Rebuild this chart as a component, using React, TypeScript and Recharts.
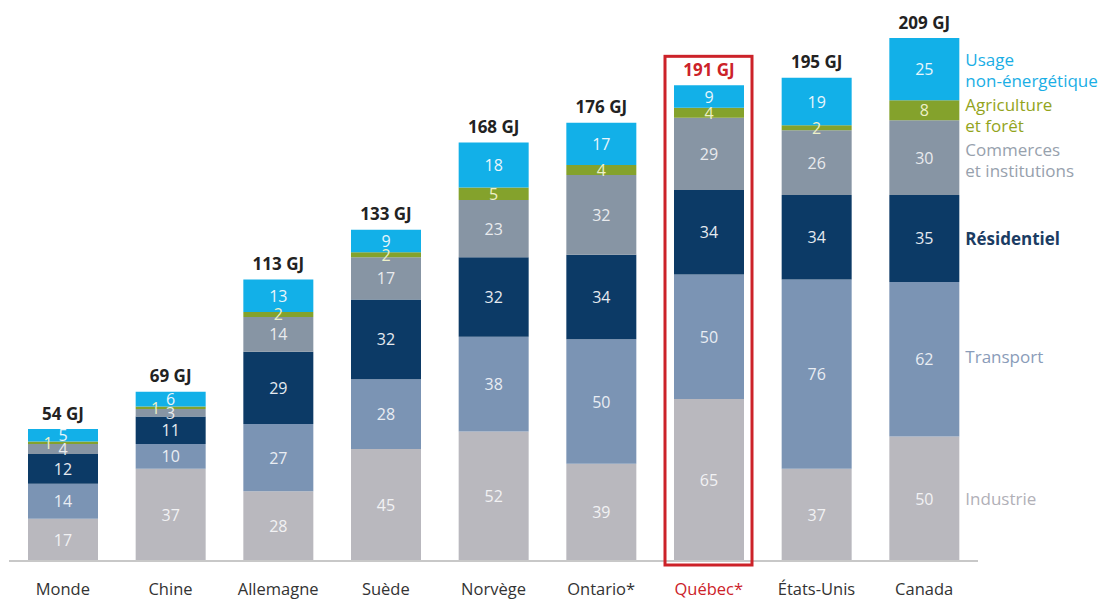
import React from 'react';
import { BarChart, Bar, XAxis, YAxis, LabelList } from 'recharts';

const categories = ['Monde', 'Chine', 'Allemagne', 'Suède', 'Norvège', 'Ontario*', 'Québec*', 'États-Unis', 'Canada'];
const industrie = [17, 37, 28, 45, 52, 39, 65, 37, 50];
const transport = [14, 10, 27, 28, 38, 50, 50, 76, 62];
const residentiel = [12, 11, 29, 32, 32, 34, 34, 34, 35];
const commerces = [4, 3, 14, 17, 23, 32, 29, 26, 30];
const agriculture = [1, 1, 2, 2, 5, 4, 4, 2, 8];
const usage = [5, 6, 13, 9, 18, 17, 9, 19, 25];
const totals = ['54 GJ', '69 GJ', '113 GJ', '133 GJ', '168 GJ', '176 GJ', '191 GJ', '195 GJ', '209 GJ'];
const highlight = 'Québec*';

const FONT = '"Open Sans", "Noto Sans", sans-serif';
const RED = '#cc2229';

const series = [
  { key: 'industrie', values: industrie, color: '#b9b8be', labelColor: '#f2f2f4', legend: ['Industrie'], legendColor: '#b1b0b7', bold: false, legendDy: 0 },
  { key: 'transport', values: transport, color: '#7b94b4', labelColor: '#e9edf3', legend: ['Transport'], legendColor: '#8a9cb9', bold: false, legendDy: -3 },
  { key: 'residentiel', values: residentiel, color: '#0c3a66', labelColor: '#e6eaf0', legend: ['Résidentiel'], legendColor: '#1b3c63', bold: true, legendDy: 0 },
  { key: 'commerces', values: commerces, color: '#8795a4', labelColor: '#e9ebee', legend: ['Commerces', 'et institutions'], legendColor: '#97a1ad', bold: false, legendDy: 2 },
  { key: 'agriculture', values: agriculture, color: '#84a22c', labelColor: '#eef0c8', legend: ['Agriculture', 'et forêt'], legendColor: '#93a41c', bold: false, legendDy: 5 },
  { key: 'usage', values: usage, color: '#12b0e8', labelColor: '#e8f6fc', legend: ['Usage', 'non-énergétique'], legendColor: '#1aaee5', bold: false, legendDy: 1 },
];

const data = categories.map((c, i) => {
  const row: any = { name: c };
  series.forEach((s) => { row[s.key] = s.values[i]; });
  return row;
});

const lastIndex = categories.length - 1;

function makeValueLabel(s: any) {
  return (props: any) => {
    const { x, y, width, height, value, index } = props;
    const cx = Number(x) + Number(width) / 2 + (value === 1 ? -15 : 0);
    const cy = Number(y) + Number(height) / 2;
    const els: any[] = [
      <text key="v" x={cx} y={cy} textAnchor="middle" dominantBaseline="central"
        fontFamily={FONT} fontSize={16} fill={s.labelColor}>{value}</text>,
    ];
    if (index === lastIndex) {
      const lx = Number(x) + Number(width) + 6;
      const n = s.legend.length;
      s.legend.forEach((line: string, li: number) => {
        els.push(
          <text key={'l' + li} x={lx} y={cy + s.legendDy + (li - (n - 1) / 2) * 21} dominantBaseline="central"
            fontFamily={FONT} fontSize={17} fontWeight={s.bold ? 700 : 400} fill={s.legendColor}>{line}</text>
        );
      });
    }
    return <g>{els}</g>;
  };
}

const TotalLabel = (props: any) => {
  const { x, y, width, height, index, value } = props;
  const cat = categories[index];
  const isHi = cat === highlight;
  const cx = Number(x) + Number(width) / 2;
  const top = Number(y);
  const els: any[] = [
    <text key="t" x={cx} y={top - 16} textAnchor="middle" dominantBaseline="central"
      fontFamily={FONT} fontSize={17} fontWeight={700} fill={isHi ? RED : '#222'}>{totals[index]}</text>,
  ];
  if (isHi) {
    const pxPerUnit = Number(height) / Number(value);
    const sum = series.reduce((a, s) => a + s.values[index], 0);
    const baseline = top + sum * pxPerUnit;
    const bx = Number(x) - 9;
    const by = top - 29;
    els.push(
      <rect key="box" x={bx} y={by} width={Number(width) + 17} height={baseline + 4 - by}
        fill="none" stroke={RED} strokeWidth={3} />
    );
  }
  return <g>{els}</g>;
};

const Tick = (props: any) => {
  const { x, y, payload } = props;
  const isHi = payload.value === highlight;
  return (
    <text x={x} y={y + 19} textAnchor="middle" dominantBaseline="central"
      fontFamily={FONT} fontSize={16.5} fill={isHi ? RED : '#333'}>{payload.value}</text>
  );
};

export default function App() {
  return (
    <div style={{ width: 1110, height: 599, background: '#fff' }}>
      <style>{'body{margin:0}'}</style>
      <BarChart width={1110} height={599} data={data}
        margin={{ top: 38, right: 132, left: 9, bottom: 0 }}>
        <XAxis dataKey="name" height={38} tickLine={false}
          axisLine={{ stroke: '#c8c8c8', strokeWidth: 2 }} tick={<Tick />} interval={0} />
        <YAxis hide domain={[0, 210]} />
        {series.map((s, si) => (
          <Bar key={s.key} dataKey={s.key} stackId="a" fill={s.color} barSize={70}
            isAnimationActive={false}>
            <LabelList dataKey={s.key} content={makeValueLabel(s)} />
            {si === series.length - 1 ? <LabelList dataKey={s.key} content={TotalLabel} /> : null}
          </Bar>
        ))}
      </BarChart>
    </div>
  );
}
